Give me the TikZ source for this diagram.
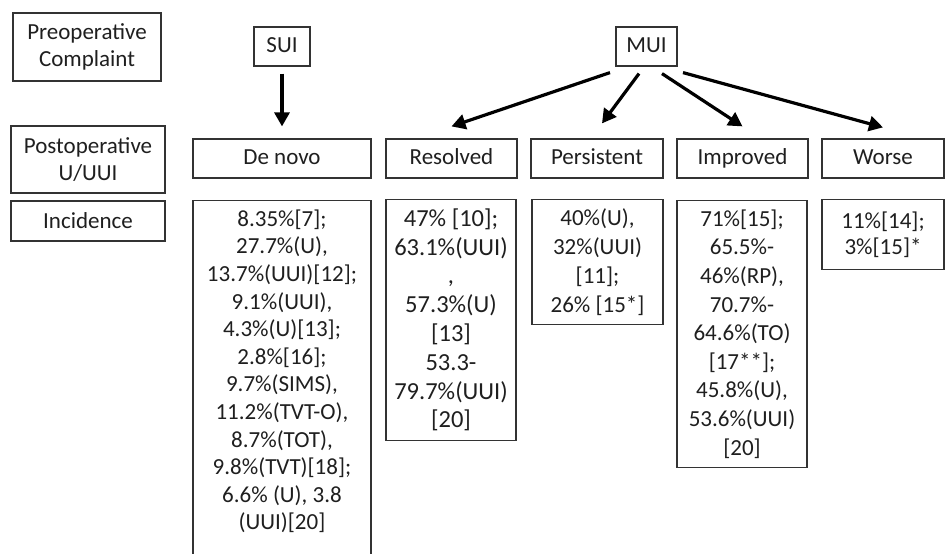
\documentclass[tikz,border=0pt]{standalone}
\usepackage{fontspec}
\setmainfont{Carlito}
\usetikzlibrary{positioning,arrows.meta}

\begin{document}
\begin{tikzpicture}[
  x=1pt,y=-1pt,
  box/.style={draw=black!80,line width=1.2pt,align=center,inner xsep=0pt,inner ysep=0pt,text=black!88,font=\fontsize{23}{27.6}\selectfont},
  hdr/.style={box,minimum height=39pt,text height=16pt,text depth=5pt},
  val/.style={box,anchor=north,inner ysep=9pt},
  arr/.style={-{Triangle[length=14pt,width=15pt]},line width=3.2pt}
]
\useasboundingbox (0,0) rectangle (945,554);
\node[box,minimum width=148pt,minimum height=68pt] (pre) at (87,47) {Preoperative\\Complaint};
\node[box,minimum width=154pt,minimum height=67pt] (post) at (88,159.5) {Postoperative\\U/UUI};
\node[box,minimum width=154pt,minimum height=40pt] (inc) at (88,221) {Incidence};
\node[hdr,minimum width=56pt] (sui) at (282,46.5) {SUI};
\node[hdr,minimum width=61pt] (mui) at (646.5,46.5) {MUI};
\node[hdr,minimum width=178pt] (denovo) at (282,158.5) {De novo};
\node[hdr,minimum width=131pt] (res) at (451.5,158.5) {Resolved};
\node[hdr,minimum width=132pt] (per) at (597,158.5) {Persistent};
\node[hdr,minimum width=131pt] (imp) at (742.5,158.5) {Improved};
\node[hdr,minimum width=122pt] (wor) at (883,158.5) {Worse};
\node[val,minimum width=178pt] (denovodat) at (282,200) {8.35\%[7];\\27.7\%(U),\\13.7\%(UUI)[12];\\9.1\%(UUI),\\4.3\%(U)[13];\\2.8\%[16];\\9.7\%(SIMS),\\11.2\%(TVT-O),\\8.7\%(TOT),\\9.8\%(TVT)[18];\\6.6\% (U), 3.8\\(UUI)[20]\\\mbox{}\\\mbox{}};
\node[val,minimum width=130pt,font=\fontsize{24.5}{28.8}\selectfont] (resdat) at (451,199) {47\% [10];\\63.1\%(UUI)\\,\\57.3\%(U)\\[0pt][13]\\53.3-\\79.7\%(UUI)\\[0pt][20]};
\node[val,minimum width=131pt,font=\fontsize{23}{29}\selectfont] (perdat) at (597.5,199) {40\%(U),\\32\%(UUI)\\[0pt][11];\\26\% [15*]};
\node[val,minimum width=130pt,font=\fontsize{23}{28.6}\selectfont] (impdat) at (742,200) {71\%[15];\\65.5\%-\\46\%(RP),\\70.7\%-\\64.6\%(TO)\\[0pt][17**];\\45.8\%(U),\\53.6\%(UUI)\\[0pt][20]};
\node[val,minimum width=122pt,font=\fontsize{23}{26.5}\selectfont,inner ysep=12pt] (wordat) at (883,199) {11\%[14];\\3\%[15]*};
\draw[arr] ([yshift=-7pt]sui.south) -- ([yshift=12pt]denovo.north);
\draw[arr] ([xshift=-36.5pt,yshift=-6pt]mui.south) -- ([yshift=12pt]res.north);
\draw[arr] ([xshift=-7.5pt,yshift=-7pt]mui.south) -- ([xshift=5pt,yshift=15pt]per.north);
\draw[arr] ([xshift=15.5pt,yshift=-7pt]mui.south) -- ([yshift=12pt]imp.north);
\draw[arr] ([xshift=36.5pt,yshift=-6pt]mui.south) -- ([yshift=11pt]wor.north);
\end{tikzpicture}
\end{document}
